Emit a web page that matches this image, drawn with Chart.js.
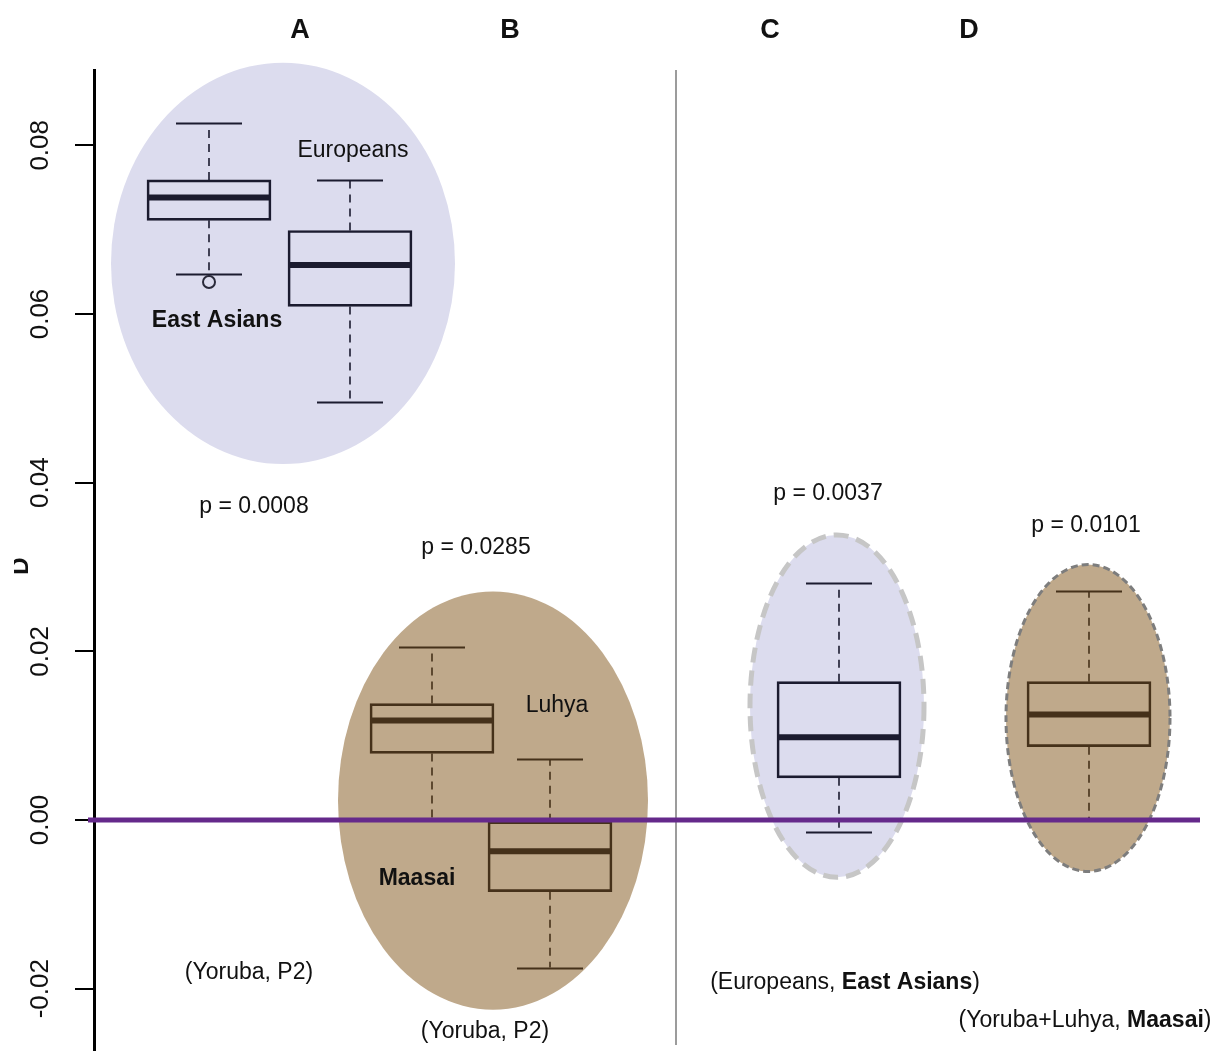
<!DOCTYPE html>
<html>
<head>
<meta charset="utf-8">
<script src="https://cdn.jsdelivr.net/npm/chart.js@4.4.1/dist/chart.umd.min.js"></script>
<style>
  html, body { margin: 0; padding: 0; background: #fff; overflow: hidden; }
  #chart { display: block; }
</style>
</head>
<body>
<canvas id="chart" width="1220" height="1051"></canvas>
<script>
// --- dades llegides de la figura ---
const groups     = ["East Asians", "Europeans", "Maasai", "Luhya", "Europeans vs East Asians", "Yoruba+Luhya vs Maasai"];
const xPos       = [1.15, 2.56, 3.38, 4.56, 7.45, 9.95];
const whiskerLo  = [0.0647, 0.0496, 0.0000, -0.0175, -0.0014, 0.0000];
const q1         = [0.0711, 0.0609, 0.0079, -0.0085, 0.0050, 0.0087];
const median     = [0.0738, 0.0658, 0.0118, -0.0037, 0.0098, 0.0125];
const q3         = [0.0759, 0.0699, 0.0138, -0.0002, 0.0164, 0.0164];
const whiskerHi  = [0.0826, 0.0759, 0.0205, 0.0072, 0.0281, 0.0271];
const outliers   = [[0.0638], [], [], [], [], []];
const yTicks     = [-0.02, 0.00, 0.02, 0.04, 0.06, 0.08];

// el·lipses de fons (centre i semieixos en unitats de dades)
const ellipseCx  = [1.89, 3.99, 7.43, 9.94];
const ellipseCy  = [0.0660, 0.0023, 0.0135, 0.0121];
const ellipseRx  = [1.72, 1.55, 0.87, 0.82];
const ellipseRy  = [0.0238, 0.0248, 0.0203, 0.0182];

// estils
const theme = ["blue", "blue", "tan", "tan", "blue", "tan"];
const ellipseTheme = ["blue", "tan", "blue", "tan"];
const ellipseDash = [null, null, { color: "#c6c6c6", width: 5, dash: [15, 8] }, { color: "#7d7d7d", width: 3, dash: [7, 4] }];
const COL = {
  blue: { fill: "#dcdcee", line: "#1b1b2f" },
  tan:  { fill: "#bfa98b", line: "#45311a" }
};
const FONT = '"Liberation Sans", Arial, sans-serif';

// textos (posició en unitats de dades)
const labels = [
  { parts: [["A", true]], x: 2.06, y: 0.0936, size: 27 },
  { parts: [["B", true]], x: 4.16, y: 0.0936, size: 27 },
  { parts: [["C", true]], x: 6.76, y: 0.0936, size: 27 },
  { parts: [["D", true]], x: 8.75, y: 0.0936, size: 27 },
  { parts: [["Europeans", false]], x: 2.59, y: 0.07935, size: 23 },
  { parts: [["East Asians", true]], x: 1.23, y: 0.05925, size: 23 },
  { parts: [["p = 0.0008", false]], x: 1.60, y: 0.03715, size: 23 },
  { parts: [["p = 0.0285", false]], x: 3.82, y: 0.03235, size: 23 },
  { parts: [["Luhya", false]], x: 4.63, y: 0.01355, size: 23 },
  { parts: [["Maasai", true]], x: 3.23, y: -0.00695, size: 23 },
  { parts: [["(Yoruba, P2)", false]], x: 1.55, y: -0.01805, size: 23 },
  { parts: [["(Yoruba, P2)", false]], x: 3.91, y: -0.02515, size: 23 },
  { parts: [["p = 0.0037", false]], x: 7.34, y: 0.03875, size: 23 },
  { parts: [["p = 0.0101", false]], x: 9.92, y: 0.03485, size: 23 },
  { parts: [["(Europeans, ", false], ["East Asians", true], [")", false]], x: 7.51, y: -0.01925, size: 23 },
  { parts: [["(Yoruba+Luhya, ", false], ["Maasai", true], [")", false]], x: 9.91, y: -0.02375, size: 23 }
];

function drawParts(ctx, parts, x, y, size) {
  const widths = parts.map(p => {
    ctx.font = `${p[1] ? "bold " : ""}${size}px ${FONT}`;
    return ctx.measureText(p[0]).width;
  });
  let cx = x - widths.reduce((a, b) => a + b, 0) / 2;
  ctx.textAlign = "left";
  ctx.textBaseline = "middle";
  ctx.fillStyle = "#111";
  parts.forEach((p, i) => {
    ctx.font = `${p[1] ? "bold " : ""}${size}px ${FONT}`;
    ctx.fillText(p[0], cx, y);
    cx += widths[i];
  });
}

const boxPlugin = {
  id: "boxExtras",
  beforeDatasetsDraw(chart) {
    const { ctx, scales: { x, y } } = chart;
    ellipseCx.forEach((cx, i) => {
      const px = x.getPixelForValue(cx), py = y.getPixelForValue(ellipseCy[i]);
      const rx = Math.abs(x.getPixelForValue(cx + ellipseRx[i]) - px);
      const ry = Math.abs(y.getPixelForValue(ellipseCy[i] + ellipseRy[i]) - py);
      ctx.save();
      ctx.beginPath();
      ctx.ellipse(px, py, rx, ry, 0, 0, Math.PI * 2);
      ctx.fillStyle = COL[ellipseTheme[i]].fill;
      ctx.fill();
      const d = ellipseDash[i];
      if (d) {
        ctx.setLineDash(d.dash);
        ctx.lineWidth = d.width;
        ctx.strokeStyle = d.color;
        ctx.stroke();
      }
      ctx.restore();
    });
  },
  afterDatasetsDraw(chart) {
    const { ctx, chartArea, scales: { x, y } } = chart;
    const boxW = 124, capW = 66;
    ctx.save();
    xPos.forEach((xv, i) => {
      const px = x.getPixelForValue(xv);
      const c = COL[theme[i]].line;
      ctx.strokeStyle = c;
      // bigotis discontinus
      ctx.lineWidth = 1.6;
      ctx.setLineDash([8, 6]);
      ctx.beginPath();
      ctx.moveTo(px, y.getPixelForValue(q3[i]));
      ctx.lineTo(px, y.getPixelForValue(whiskerHi[i]));
      ctx.moveTo(px, y.getPixelForValue(q1[i]));
      ctx.lineTo(px, y.getPixelForValue(whiskerLo[i]));
      ctx.stroke();
      ctx.setLineDash([]);
      // extrems
      ctx.lineWidth = 2;
      ctx.beginPath();
      [whiskerHi[i], whiskerLo[i]].forEach(v => {
        const py = Math.round(y.getPixelForValue(v)) + 0.5;
        ctx.moveTo(px - capW / 2, py);
        ctx.lineTo(px + capW / 2, py);
      });
      ctx.stroke();
      // mediana
      ctx.lineWidth = 6;
      ctx.beginPath();
      const pm = y.getPixelForValue(median[i]);
      ctx.moveTo(px - boxW / 2 + 1, pm);
      ctx.lineTo(px + boxW / 2 - 1, pm);
      ctx.stroke();
    });

    // línia separadora vertical
    const sx = x.getPixelForValue(5.82);
    ctx.strokeStyle = "#9c9c9c";
    ctx.lineWidth = 2;
    ctx.beginPath();
    ctx.moveTo(sx, chartArea.top);
    ctx.lineTo(sx, chartArea.bottom - 6);
    ctx.stroke();

    // línia de zero
    const zy = y.getPixelForValue(0);
    ctx.strokeStyle = "#65298b";
    ctx.lineWidth = 5;
    ctx.beginPath();
    ctx.moveTo(x.getPixelForValue(-0.06), zy);
    ctx.lineTo(x.getPixelForValue(11.06), zy);
    ctx.stroke();

    // textos
    labels.forEach(l => drawParts(ctx, l.parts, x.getPixelForValue(l.x), y.getPixelForValue(l.y), l.size));

    // etiquetes de l'eix Y (girades)
    ctx.fillStyle = "#111";
    ctx.font = `26px ${FONT}`;
    ctx.textAlign = "center";
    ctx.textBaseline = "middle";
    yTicks.forEach(v => {
      ctx.save();
      ctx.translate(41, y.getPixelForValue(v));
      ctx.rotate(-Math.PI / 2);
      ctx.fillText(v.toFixed(2), 0, 0);
      ctx.restore();
    });

    // títol de l'eix (retallat a l'esquerra)
    ctx.save();
    ctx.beginPath();
    ctx.rect(14, 0, 40, chart.height);
    ctx.clip();
    ctx.translate(28, 566);
    ctx.rotate(-Math.PI / 2);
    ctx.font = `bold 24px ${FONT}`;
    ctx.textBaseline = "alphabetic";
    ctx.fillText("D", 0, 0);
    ctx.restore();

    ctx.restore();
  }
};

new Chart(document.getElementById("chart"), {
  type: "bar",
  data: {
    datasets: [
      {
        type: "bar",
        data: xPos.map((xv, i) => ({ x: xv, y: [q1[i], q3[i]] })),
        backgroundColor: "rgba(0,0,0,0)",
        borderColor: theme.map(t => COL[t].line),
        borderWidth: 2,
        borderSkipped: false,
        barThickness: 124
      },
      {
        type: "scatter",
        data: outliers.flatMap((arr, i) => arr.map(v => ({ x: xPos[i], y: v }))),
        pointStyle: "circle",
        pointRadius: 6,
        borderWidth: 2,
        borderColor: "#2a2a3a",
        backgroundColor: "rgba(0,0,0,0)"
      }
    ]
  },
  options: {
    responsive: false,
    animation: false,
    layout: { autoPadding: false, padding: { top: 70, left: 0, right: 0, bottom: 0 } },
    plugins: { legend: { display: false }, tooltip: { enabled: false } },
    scales: {
      x: { type: "linear", min: 0, max: 11.26, offset: false, display: false },
      y: {
        type: "linear",
        min: -0.02739,
        max: 0.08893,
        afterFit: (s) => { s.width = 94; },
        border: { display: true, color: "#000", width: 3 },
        grid: { drawOnChartArea: false, drawTicks: true, tickLength: 19, color: "#000", lineWidth: 2 },
        ticks: { display: false, stepSize: 0.02, includeBounds: false }
      }
    }
  },
  plugins: [boxPlugin]
});
</script>
</body>
</html>
